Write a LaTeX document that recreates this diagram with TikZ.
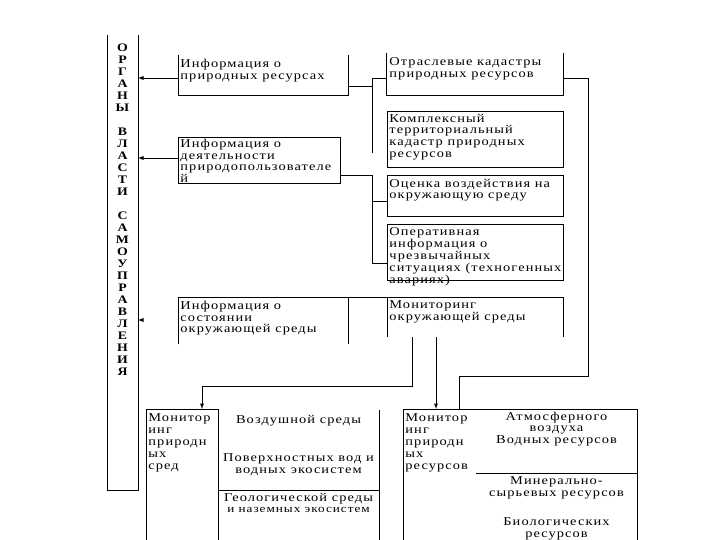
\documentclass[tikz,border=0pt]{standalone}
\usepackage{fontspec}
\setmainfont{Liberation Serif}[FakeStretch=1.2,LetterSpace=9]
\usepackage{tikz}
\usetikzlibrary{arrows,positioning}

\begin{document}
\begin{tikzpicture}[
    x=1pt, y=-1pt,
    line width=0.9pt,
    >=latex,
    boxframe/.style={rectangle, inner sep=0pt, outer sep=0pt},
    txt/.style={align=left, inner sep=0pt, font=\fontsize{12}{11.8}\selectfont},
    txtc/.style={align=center, inner sep=0pt, font=\fontsize{12}{11.8}\selectfont},
    letters/.style={align=center, inner sep=0pt, font=\fontsize{11.5}{12}\selectfont\bfseries}
]
    \useasboundingbox (0,0) rectangle (720,540);
    \clip (0,0) rectangle (720,540);

    % Left column
    \node[boxframe, minimum width=31pt, minimum height=455pt] (organ) at (122.5,262.5) {};
    \draw (organ.north west) -- (organ.south west) -- (organ.south east) -- (organ.north east);
    \node[letters, below=8pt of organ.north] (organt) {О\\Р\\Г\\А\\Н\\Ы\\[12pt]В\\Л\\А\\С\\Т\\И\\[12pt]С\\А\\М\\О\\У\\П\\Р\\А\\В\\Л\\Е\\Н\\И\\Я};

    % Information boxes
    \node[boxframe, minimum width=170pt, minimum height=40pt] (infres) at (263,75) {};
    \draw (infres.north west) -- (infres.south west) -- (infres.south east) -- (infres.north east);
    \node[txt, below right=3.5pt and 2pt of infres.north west] (infrest) {Информация о\\природных ресурсах};

    \node[boxframe, draw, minimum width=162pt, minimum height=46pt] (infuser) at (259,160) {};
    \node[txt, below right=1.5pt and 2pt of infuser.north west] (infusert) {Информация о\\деятельности\\природопользователе\\й};

    \node[boxframe, minimum width=170pt, minimum height=47pt] (infenv) at (263,320.5) {};
    \node[txt, below right=3.5pt and 2pt of infenv.north west] (infenvt) {Информация о\\состоянии\\окружающей среды};

    \node[boxframe, minimum width=176pt, minimum height=40pt] (monenv) at (475,317) {};
    \node[txt, below right=3.5pt and 2pt of monenv.north west] (monenvt) {Мониторинг\\окружающей среды};
    \draw (infenv.south west) -- (infenv.north west) -- (monenv.north east) -- (monenv.south east);
    \draw (infenv.north east) -- (infenv.south east);
    \draw (monenv.north west) -- (monenv.south west);

    % Cadastre boxes
    \node[boxframe, minimum width=177pt, minimum height=42pt] (kadastr) at (474.5,74) {};
    \draw (kadastr.north west) -- (kadastr.south west) -- (kadastr.south east) -- (kadastr.north east);
    \node[txt, below right=4.5pt and 3pt of kadastr.north west] (kadastrt) {Отраслевые кадастры\\природных ресурсов};

    \node[boxframe, draw, minimum width=176pt, minimum height=56pt] (complex) at (475,139) {};
    \node[txt, below right=2.5pt and 2pt of complex.north west] (complext) {Комплексный\\территориальный\\кадастр природных\\ресурсов};

    \node[boxframe, draw, minimum width=176pt, minimum height=41pt] (impact) at (475,195.5) {};
    \node[txt, below right=3.5pt and 2pt of impact.north west] (impactt) {Оценка воздействия на\\окружающую среду};

    \node[boxframe, draw, minimum width=176pt, minimum height=56pt] (emerg) at (475,252) {};
    \node[txt, below right=3.5pt and 2pt of emerg.north west] (emergt) {Оперативная\\информация о\\чрезвычайных\\ситуациях (техногенных\\авариях)};

    % Monitoring boxes
    \node[boxframe, minimum width=72pt, minimum height=140pt] (monsred) at (182,479) {};
    \draw (monsred.south west) -- (monsred.north west) -- (monsred.north east) -- (monsred.south east);
    \node[txt, below right=4.5pt and 2pt of monsred.north west] (monsredt) {Монитор\\инг\\природн\\ых\\сред};

    \node[boxframe, minimum width=161pt, minimum height=140pt] (sredbox) at (298.5,479) {};
    \draw ([yshift=-1pt]sredbox.north east) -- (sredbox.south east);
    \coordinate (geo) at (298.5,490);
    \draw (geo -| sredbox.west) -- (geo -| sredbox.east);
    \node[txtc, below=5.5pt of sredbox.north] (airt) {Воздушной среды};
    \node[txtc] (watert) at (298.5,464.5) {Поверхностных вод и\\водных экосистем};
    \node[txtc] (geot) at (298.5,503) {Геологической среды\\{\fontsize{11}{11}\selectfont и наземных экосистем}};

    \node[boxframe, minimum width=234pt, minimum height=140pt] (resbox) at (520,479) {};
    \draw (resbox.south west) -- (resbox.north west) -- (resbox.north east) -- (resbox.south east);
    \coordinate (mineral) at (476,473);
    \draw (mineral) -- (mineral -| resbox.east);
    \node[txt, below right=4.5pt and 2pt of resbox.north west] (monrest) {Монитор\\инг\\природн\\ых\\ресурсов};
    \node[txtc] (atmt) at (556.5,429) {Атмосферного\\воздуха\\Водных ресурсов};
    \node[txtc] (mint) at (556.5,488) {Минерально-\\сырьевых ресурсов};
    \node[txtc] (biot) at (556.5,529) {Биологических\\ресурсов};

    % Arrows to the column
    \coordinate (inA) at (138,78);
    \coordinate (inB) at (138,158);
    \coordinate (inC) at (138,320);
    \draw[->] (inA -| infres.west) -- (inA);
    \draw[->] (inB -| infuser.west) -- (inB);
    \draw[->] ([xshift=4pt]inC) -- (inC);

    % Buses
    \coordinate (busA) at (372,78);
    \coordinate (busAend) at (372,153);
    \draw ([yshift=-11pt]infres.east) -| (busA) -- (busA -| kadastr.west);
    \draw (busA) -- (busAend);

    \coordinate (busB) at (372,175);
    \coordinate (busG) at (372,201);
    \coordinate (busBend) at (372,263);
    \draw (busB -| infuser.east) -- (busB) -- (busBend) -- (busBend -| emerg.west);
    \draw (busG) -- (busG -| impact.west);

    \coordinate (busE) at (588,376);
    \coordinate (resin) at (459,409);
    \draw (busA -| kadastr.east) -| (busE) -| (resin);

    \coordinate (busD) at (412,386);
    \coordinate (sredin) at (202,409);
    \coordinate (resin2) at (436,409);
    \draw[->] (busD |- monenv.south) -- (busD) -| (sredin);
    \draw[->] (resin2 |- monenv.south) -- (resin2);

\end{tikzpicture}
\end{document}
